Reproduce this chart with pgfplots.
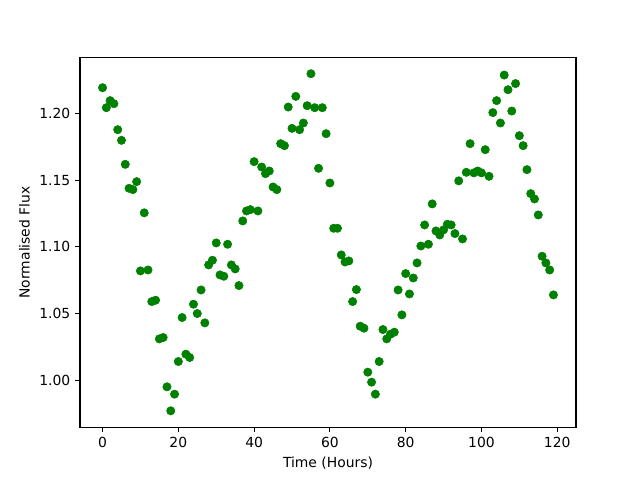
\documentclass[border=0pt]{standalone}
\usepackage{pgfplots}
\pgfplotsset{compat=1.18}
\usepackage{fontspec}
\setmainfont{DejaVu Sans}
\definecolor{mplgreen}{HTML}{008000}
\begin{document}
\begin{tikzpicture}
\useasboundingbox (-57.6pt,-38.016pt) rectangle (403.2pt,307.584pt);
\begin{axis}[
  scale only axis,
  width=357.12pt, height=266.11pt,
  xmin=-5.95, xmax=124.95,
  ymin=0.9647, ymax=1.2421,
  xtick={0,20,40,60,80,100,120},
  ytick={1.00,1.05,1.10,1.15,1.20},
  yticklabel style={/pgf/number format/.cd,fixed,fixed zerofill,precision=2},
  /pgf/number format/assume math mode=true,
  tick align=outside, xtick pos=bottom, ytick pos=left,
  major tick length=3.5pt,
  every tick/.style={black, line width=0.8pt},
  axis line style={line width=0.8pt},
  tick label style={font=\fontsize{10}{12}\selectfont},
  label style={font=\fontsize{10}{12}\selectfont},
  xlabel={Time (Hours)}, ylabel={Normalised Flux},
]
\addplot[only marks, mark=*, mark size=3pt, color=mplgreen] coordinates {
(0,1.2195)(1,1.2045)(2,1.2098)(3,1.2075)(4,1.188)(5,1.180)(6,1.162)(7,1.144)(8,1.143)(9,1.149)
(10,1.082)(11,1.1256)(12,1.0827)(13,1.059)(14,1.060)(15,1.031)(16,1.032)(17,0.995)(18,0.977)(19,0.9895)
(20,1.014)(21,1.047)(22,1.0195)(23,1.017)(24,1.057)(25,1.050)(26,1.0677)(27,1.043)(28,1.0865)(29,1.090)
(30,1.103)(31,1.079)(32,1.078)(33,1.102)(34,1.0865)(35,1.0835)(36,1.071)(37,1.1195)(38,1.127)(39,1.128)
(40,1.164)(41,1.127)(42,1.160)(43,1.155)(44,1.157)(45,1.145)(46,1.143)(47,1.1775)(48,1.176)(49,1.205)
(50,1.189)(51,1.213)(52,1.188)(53,1.193)(54,1.206)(55,1.230)(56,1.2045)(57,1.159)(58,1.2045)(59,1.185)
(60,1.148)(61,1.114)(62,1.114)(63,1.094)(64,1.0887)(65,1.0895)(66,1.059)(67,1.068)(68,1.0405)(69,1.039)
(70,1.006)(71,0.9985)(72,0.9895)(73,1.014)(74,1.038)(75,1.031)(76,1.0345)(77,1.036)(78,1.0677)(79,1.049)
(80,1.080)(81,1.0647)(82,1.0767)(83,1.088)(84,1.1007)(85,1.1165)(86,1.102)(87,1.1323)(88,1.112)(89,1.109)
(90,1.1128)(91,1.117)(92,1.1165)(93,1.110)(94,1.1496)(95,1.106)(96,1.156)(97,1.1775)(98,1.1556)(99,1.157)
(100,1.1556)(101,1.173)(102,1.153)(103,1.2008)(104,1.2098)(105,1.193)(106,1.229)(107,1.218)(108,1.202)(109,1.2226)
(110,1.1835)(111,1.176)(112,1.158)(113,1.140)(114,1.136)(115,1.124)(116,1.093)(117,1.088)(118,1.0827)(119,1.064)
};
\end{axis}
\end{tikzpicture}
\end{document}
